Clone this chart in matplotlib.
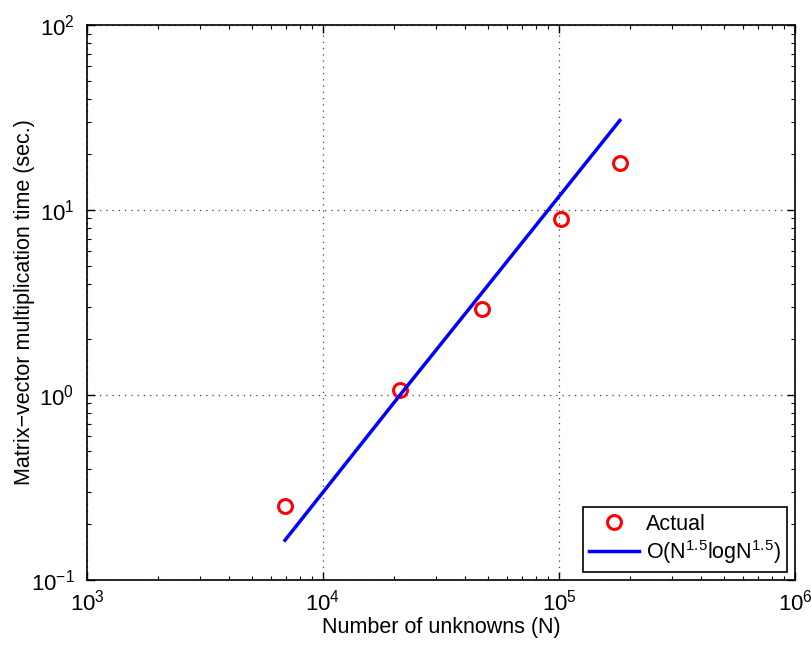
import matplotlib
matplotlib.use("Agg")
import matplotlib.pyplot as plt
from matplotlib.ticker import LogLocator, NullFormatter

plt.rcParams['font.family'] = ['Liberation Sans', 'DejaVu Sans']
plt.rcParams['mathtext.fontset'] = 'custom'
plt.rcParams['mathtext.rm'] = 'Liberation Sans'
plt.rcParams['mathtext.it'] = 'Liberation Sans'

# Measured matrix-vector multiplication times
n_unknowns = [6900, 21200, 47000, 101900, 181000]
actual_time = [0.251, 1.06, 2.92, 8.93, 17.9]

# O(N^1.5 log N^1.5) reference curve at the same sizes
fit_time = [0.164, 1.0, 3.55, 12.2, 30.5]

x_ticks = [1e3, 1e4, 1e5, 1e6]
y_ticks = [1e-1, 1e0, 1e1, 1e2]

fig = plt.figure(figsize=(8.11, 6.46), dpi=100)
ax = fig.add_axes([0.1073, 0.1022, 0.873, 0.859])

ax.plot(n_unknowns, actual_time, linestyle='none', marker='o', markersize=10,
        markerfacecolor='none', markeredgecolor='red', markeredgewidth=2.2,
        label='Actual')
ax.plot(n_unknowns, fit_time, color='blue', linewidth=2.5,
        label=r'O(N$^{1.5}$logN$^{1.5}$)')

ax.set_xscale('log')
ax.set_yscale('log')
ax.set_xlim(1e3, 1e6)
ax.set_ylim(1e-1, 1e2)
ax.set_xticks(x_ticks)
ax.set_yticks(y_ticks)
ax.xaxis.set_minor_locator(LogLocator(base=10, subs=range(2, 10), numticks=20))
ax.yaxis.set_minor_locator(LogLocator(base=10, subs=range(2, 10), numticks=20))
ax.xaxis.set_minor_formatter(NullFormatter())
ax.yaxis.set_minor_formatter(NullFormatter())

ax.tick_params(which='both', direction='in', top=True, right=True,
               labelsize=16, colors='black')
ax.tick_params(which='major', length=6, width=1)
ax.tick_params(which='minor', length=3, width=0.8)
ax.tick_params(axis='x', which='major', pad=7)
ax.tick_params(axis='y', which='major', pad=9)
for s in ax.spines.values():
    s.set_linewidth(1.2)

ax.grid(True, which='major', linestyle=(0, (1, 4)), color='#404040', linewidth=0.9)

ax.set_xlabel('Number of unknowns (N)', fontsize=15.5, labelpad=1)
ax.set_ylabel('Matrix\u2212vector multiplication time (sec.)', fontsize=15.5)
ax.yaxis.set_label_coords(-0.073, 0.5)

leg = ax.legend(loc='lower right', fontsize=15.5, fancybox=False, framealpha=1,
                edgecolor='black', borderaxespad=0.35, handlelength=2.3,
                handletextpad=0.35, borderpad=0.3, labelspacing=0.15)
leg.get_frame().set_linewidth(1.2)

fig.savefig('out.png', dpi=100)
